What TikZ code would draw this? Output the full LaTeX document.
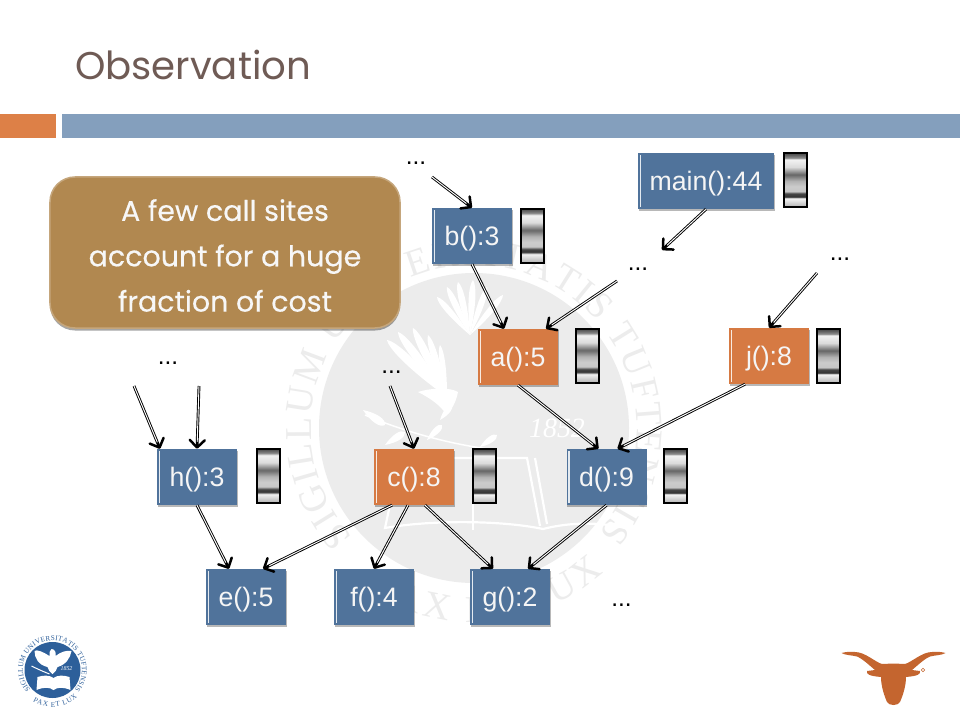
\documentclass[tikz,border=0pt]{standalone}
\usepackage{fontspec}
\setmainfont{Liberation Sans}
\newfontfamily\titlefont{Poppins}
\newfontfamily\calloutfont[FakeBold=.4]{Poppins}
\newfontfamily\sealfont{Liberation Serif}
\usetikzlibrary{arrows.meta,shadows,decorations.text}
\definecolor{nodeblue}{HTML}{50739B}
\definecolor{nodeorange}{HTML}{D67A43}
\definecolor{baror}{HTML}{DD8047}
\definecolor{barbl}{HTML}{849FBD}
\definecolor{calloutfill}{HTML}{B18850}
\definecolor{titlecol}{HTML}{6F5B55}
\definecolor{wm}{HTML}{ECECEC}
\definecolor{sealblue}{HTML}{2D5F9A}
\definecolor{horn}{HTML}{C4652F}
\pgfdeclareverticalshading{barshade}{100bp}{%
 color(0bp)=(black!40);color(3bp)=(black!30);color(11bp)=(black!4);color(12.5bp)=(black!80);
 color(15.5bp)=(black!72);color(17.5bp)=(black!22);color(22bp)=(black!20);color(27bp)=(black!30);
 color(33bp)=(black!60);color(40bp)=(black!14);color(47bp)=(black!5);color(48.5bp)=(black!45);
 color(52bp)=(black!68);color(56bp)=(black!40)}
\tikzset{
 x=1bp,y=-1bp,
 fn/.style={minimum height=56bp,inner sep=0pt,text=white!96!black,
   font=\fontsize{26.8}{30}\selectfont,text height=24bp,text depth=5bp,
   general shadow={shadow xshift=0.8bp,shadow yshift=-2bp,fill=black,opacity=.28},
   path picture={\draw[white,line width=1.1bp,opacity=.85]
     ([xshift=2.5bp,yshift=-2bp]path picture bounding box.north west)--
     ([xshift=2.5bp,yshift=2bp]path picture bounding box.south west);}},
 fnb/.style={fn,minimum width=80bp,fill=nodeblue},
 fno/.style={fn,minimum width=80bp,fill=nodeorange},
 costbar/.style={draw=black,line width=2bp,minimum width=23bp,minimum height=54bp,inner sep=0pt,shading=barshade},
 conn/.style={draw=black,line width=2.8bp,
   -{Straight Barb[length=7.5bp,width=15bp,line width=2.5bp,round]},
   postaction={draw=white,line width=.95bp,-,shorten >=7bp}},
 dots/.style={anchor=base,inner sep=0pt,font=\fontsize{24.5}{30}\selectfont},
}
\newcommand{\lens}[5]{\fill[white] (#1,#2)
 .. controls ({#1+.5*(#3-#1)-#5*(#4-#2)},{#2+.5*(#4-#2)+#5*(#3-#1)}) and ({#1+.9*(#3-#1)-#5*(#4-#2)},{#2+.9*(#4-#2)+#5*(#3-#1)}) .. (#3,#4)
 .. controls ({#1+.9*(#3-#1)+#5*(#4-#2)},{#2+.9*(#4-#2)-#5*(#3-#1)}) and ({#1+.5*(#3-#1)+#5*(#4-#2)},{#2+.5*(#4-#2)-#5*(#3-#1)}) .. (#1,#2) -- cycle;}
\begin{document}
\begin{tikzpicture}
\useasboundingbox (0,0) rectangle (960,720);
\fill[white] (0,0) rectangle (960,720);
% watermark seal
\begin{scope}[shift={(474,428)},x=1bp,y=1bp]
 \fill[wm] (0,0) circle[radius=155];
 \path[postaction={decorate},decoration={text along path,text align={fit to path},
   text={|\fontsize{38}{38}\sealfont\color{wm}|SIGILLUM UNIVERSITATIS TUFTENSIS}}]
   (222:163) arc[start angle=222,end angle=-40,radius=163];
 \path[postaction={decorate},decoration={text along path,text align={fit to path},
   text={|\fontsize{38}{38}\sealfont\color{wm}|PAX ET LUX}}]
   (238:194) arc[start angle=238,end angle=312,radius=194];
\end{scope}
% watermark eagle
\foreach \tx/\ty in {437/297,447/287,458/282,473/280,487/287,503/295}
  {\lens{470}{335}{\tx}{\ty}{.08}}
\foreach \tx/\ty in {387/340,398/332,413/328,428/335,440/345}
  {\lens{447}{397}{\tx}{\ty}{.07}}
\fill[white] (418,392) .. controls (430,388) and (450,387) .. (458,392)
  .. controls (456,402) and (452,410) .. (446,414) .. controls (440,405) and (430,398) .. (418,392) -- cycle;
\draw[white,line width=1.5bp] (365,415) .. controls (400,430) and (450,445) .. (497,450);
\foreach \px/\py/\qx/\qy in {363/410/385/425,385/445/405/432,427/440/442/425,440/420/452/405,480/447/497/435}
  {\lens{\px}{\py}{\qx}{\qy}{.2}}
\node[text=white,font=\fontsize{28}{30}\sealfont\itshape,inner sep=0pt] (wmyear) at (557,428) {1852};
\draw[white,line width=2.2bp] (400,458)--(527,458)--(540,526);
\draw[white,line width=2.2bp] (535,458)--(547,524);
\draw[white,line width=2.2bp] (400,458)--(385,528) .. controls (430,520) and (500,520) .. (543,529) .. controls (570,522) and (600,522) .. (625,528);
\draw[white,line width=2.2bp] (473,503)--(473,530);
% header
\node[anchor=base west,inner sep=0pt,text=titlecol,font=\fontsize{38.8}{40}\titlefont] (title) at (75,80) {Observation};
\fill[baror] (0,114) rectangle (56,138);
\fill[barbl] (62,114) rectangle (960,138);
% callout
\node[rounded corners=25bp,fill=calloutfill,draw=calloutfill!75!white,line width=1.5bp,
  minimum width=350bp,minimum height=151bp,inner sep=0pt,
  general shadow={shadow xshift=0bp,shadow yshift=-2.5bp,fill=black,opacity=.35}] (callout) at (225,252.5) {};
\node[text=white!97!black,align=center,inner sep=0pt,font=\fontsize{28.6}{45.5}\calloutfont] (callouttext) at (225,255.5)
  {A few call sites\\account for a huge\\fraction of cost};
% function nodes
\node[fn,minimum width=136bp,fill=nodeblue] (main) at (706,181) {main():44};
\node[costbar] (mainbar) at (795.5,180) {};
\node[fnb] (b) at (472,236) {b():3};
\node[costbar] (bbar) at (532,235.5) {};
\node[fno] (a) at (518,357) {a():5};
\node[costbar] (abar) at (587.5,355.5) {};
\node[fno] (j) at (769,356) {j():8};
\node[costbar] (jbar) at (828.5,356) {};
\node[fnb] (h) at (197,477) {h():3};
\node[costbar] (hbar) at (268.5,475.5) {};
\node[fno] (c) at (414,477) {c():8};
\node[costbar] (cbar) at (484.5,476) {};
\node[fnb] (d) at (606.5,477) {d():9};
\node[costbar] (dbar) at (675.5,476) {};
\node[fnb] (e) at (246,597) {e():5};
\node[fnb] (f) at (374,597) {f():4};
\node[fnb] (g) at (510,597) {g():2};
% dots labels
\node[dots] (d1) at (416,165) {...};
\node[dots] (d2) at (638,270) {...};
\node[dots] (d3) at (840,260) {...};
\node[dots] (d4) at (168,364) {...};
\node[dots] (d5) at (391.5,373) {...};
\node[dots] (d6) at (621.5,606) {...};
% free ends
\coordinate (fb) at (432,177);
\coordinate (fm) at (662,250);
\coordinate (fa) at (617,281);
\coordinate (fj) at (817,273);
\coordinate (fc) at (390,386);
\coordinate (fh1) at (134,386);
\coordinate (fh2) at (199,386);
% connectors
\draw[conn] (fb) -- (b.north);
\draw[conn] (main.south) -- (fm);
\draw[conn] (b.south) -- ([xshift=-14bp]a.north);
\draw[conn] (fa) -- ([xshift=28bp]a.north);
\draw[conn] (fj) -- (j.north);
\draw[conn] (a.south) -- ([xshift=-8bp]d.north);
\draw[conn] ([xshift=-24bp]j.south) -- ([xshift=11bp]d.north);
\draw[conn] (fc) -- (c.north);
\draw[conn] (fh1) -- ([xshift=-37bp]h.north);
\draw[conn] (fh2) -- (h.north);
\draw[conn] (h.south) -- ([xshift=-17bp]e.north);
\draw[conn] ([xshift=-22bp]c.south) -- ([xshift=17bp]e.north);
\draw[conn] ([xshift=-6bp]c.south) -- (f.north);
\draw[conn] ([xshift=11bp]c.south) -- ([xshift=-17bp]g.north);
\draw[conn] (d.south) -- ([xshift=18bp]g.north);
% small seal
\begin{scope}[shift={(52.5,670)},x=1bp,y=1bp]
 \fill[sealblue] (0,0) circle[radius=28];
 \path[postaction={decorate},decoration={text along path,text align={fit to path},
   text={|\fontsize{7.2}{7.2}\sealfont\color{sealblue}|SIGILLUM UNIVERSITATIS TUFTENSIS}}]
   (-22.0,-19.8) arc[start angle=222,end angle=-42,radius=29.6];
 \path[postaction={decorate},decoration={text along path,text align={fit to path},
   text={|\fontsize{7.2}{7.2}\sealfont\color{sealblue}|PAX ET LUX}}]
   (-19.6,-31.4) arc[start angle=238,end angle=312,radius=37];
 \fill[white] (-3,14) .. controls (-9,18) and (-16,21) .. (-18,19) .. controls (-18,12) and (-14,5) .. (-5,3)
   .. controls (-4,0) and (-3,-2) .. (0,-4) .. controls (3,-2) and (4,0) .. (5,3)
   .. controls (13,5) and (18,12) .. (19,19) .. controls (14,20) and (8,18) .. (3,14)
   .. controls (4,18) and (2,21) .. (-1,21) .. controls (-3,20) and (-3,17) .. (-3,14) -- cycle;
 \draw[white,line width=1bp] (-21,4) .. controls (-13,0) and (-8,-2) .. (-3,-4);
 \fill[white] (-16,-20) .. controls (-9,-17) and (-3,-17) .. (1,-20) .. controls (5,-17) and (11,-17) .. (18,-20)
   -- (17,-7) .. controls (11,-5) and (5,-5) .. (1,-8) .. controls (-3,-5) and (-9,-5) .. (-15,-7) -- cycle;
 \node[text=white,font=\fontsize{6}{6}\sealfont\itshape,inner sep=0pt] (sealyear) at (14,1) {1852};
\end{scope}
% longhorn
\fill[horn] (893.5,663.5) -- (905,664) .. controls (912,662) and (922,652) .. (932,652)
  .. controls (937,651.5) and (942,652) .. (945.5,653) .. controls (941,655.5) and (936,655) .. (930,656.5)
  .. controls (924,659) and (917,666) .. (912,670) -- (920,671) .. controls (921,674) and (918,676) .. (906,677)
  .. controls (906,686) and (903,695) .. (900,702) .. controls (898,706) and (889,706) .. (887,702)
  .. controls (884,695) and (881,686) .. (881,677) .. controls (869,676) and (866,674) .. (867,671)
  -- (875,670) .. controls (870,666) and (863,659) .. (857,656.5) .. controls (851,655) and (846,655.5) .. (841.5,653)
  .. controls (845,652) and (850,651.5) .. (855,652) .. controls (865,652) and (875,662) .. (882,664) -- cycle;
\draw[horn,line width=.5bp] (923,670) circle[radius=1.7];
\end{tikzpicture}
\end{document}
